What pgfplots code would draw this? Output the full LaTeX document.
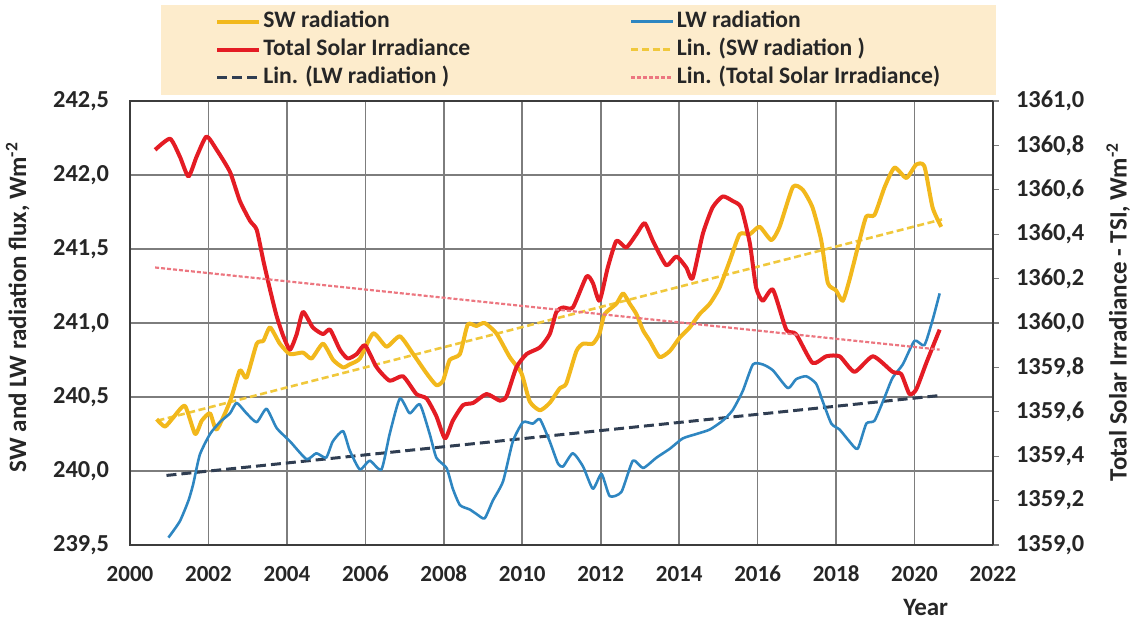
\documentclass[border=0pt]{standalone}
\usepackage{pgfplots}
\pgfplotsset{compat=1.18}
\usepackage{pgfplotstable}
\usepackage{fontspec}
\setmainfont{Carlito}
\definecolor{swc}{RGB}{242,184,28}
\definecolor{lwc}{RGB}{46,134,193}
\definecolor{tsic}{RGB}{228,28,36}
\definecolor{lwtr}{RGB}{48,62,82}
\definecolor{swtr}{RGB}{240,200,60}
\definecolor{tsitr}{RGB}{236,118,128}
\definecolor{legfill}{RGB}{253,236,204}
\definecolor{framec}{RGB}{60,60,60}
\definecolor{gridc}{RGB}{125,125,125}
\newcommand\labfont{\bfseries\fontsize{12.5}{14}\selectfont}

\pgfplotstableread{
x y
2000.68 240.35
2000.89 240.30
2001.10 240.36
2001.40 240.44
2001.66 240.25
2001.83 240.34
2002.04 240.39
2002.21 240.28
2002.55 240.47
2002.80 240.68
2002.97 240.63
2003.23 240.86
2003.40 240.88
2003.57 240.97
2003.82 240.86
2004.08 240.79
2004.41 240.80
2004.63 240.76
2004.92 240.86
2005.18 240.75
2005.43 240.70
2005.60 240.72
2005.86 240.76
2006.20 240.93
2006.54 240.84
2006.88 240.91
2007.22 240.79
2007.56 240.66
2007.81 240.58
2007.98 240.61
2008.15 240.75
2008.41 240.79
2008.61 240.99
2008.83 240.98
2009.04 241.00
2009.34 240.93
2009.68 240.77
2009.98 240.66
2010.19 240.47
2010.45 240.41
2010.70 240.46
2010.96 240.56
2011.12 240.59
2011.38 240.81
2011.55 240.86
2011.80 240.86
2011.97 240.93
2012.10 241.06
2012.40 241.13
2012.57 241.20
2012.74 241.13
2012.91 241.06
2013.08 240.95
2013.25 240.88
2013.50 240.77
2013.76 240.81
2014.01 240.90
2014.27 240.97
2014.52 241.06
2014.78 241.13
2015.03 241.24
2015.29 241.42
2015.54 241.60
2015.80 241.60
2016.05 241.65
2016.35 241.56
2016.56 241.65
2016.90 241.92
2017.15 241.90
2017.40 241.78
2017.62 241.56
2017.79 241.27
2018.00 241.22
2018.17 241.15
2018.34 241.29
2018.60 241.56
2018.77 241.72
2018.98 241.73
2019.24 241.92
2019.49 242.05
2019.79 241.98
2020.04 242.07
2020.25 242.06
2020.46 241.78
2020.68 241.65
}\swdata

\pgfplotstableread{
x y
2000.98 239.55
2001.27 239.66
2001.49 239.80
2001.61 239.91
2001.78 240.11
2002.04 240.25
2002.29 240.33
2002.55 240.39
2002.72 240.46
2002.97 240.39
2003.23 240.33
2003.48 240.42
2003.74 240.29
2004.08 240.20
2004.50 240.08
2004.75 240.12
2005.00 240.09
2005.17 240.20
2005.43 240.27
2005.60 240.14
2005.86 240.01
2006.11 240.07
2006.41 240.01
2006.62 240.25
2006.88 240.49
2007.13 240.39
2007.39 240.45
2007.64 240.25
2007.81 240.09
2008.07 240.02
2008.23 239.88
2008.41 239.77
2008.66 239.74
2008.83 239.71
2009.04 239.68
2009.25 239.80
2009.51 239.93
2009.76 240.20
2010.02 240.33
2010.27 240.32
2010.45 240.35
2010.70 240.20
2010.91 240.05
2011.04 240.03
2011.29 240.12
2011.55 240.03
2011.80 239.88
2012.02 239.98
2012.23 239.83
2012.53 239.86
2012.82 240.07
2013.08 240.02
2013.42 240.09
2013.76 240.15
2014.09 240.22
2014.44 240.25
2014.78 240.28
2015.11 240.34
2015.36 240.41
2015.62 240.54
2015.88 240.72
2016.13 240.72
2016.39 240.68
2016.77 240.56
2016.98 240.62
2017.24 240.64
2017.49 240.59
2017.66 240.47
2017.88 240.32
2018.09 240.28
2018.34 240.20
2018.55 240.15
2018.77 240.32
2018.98 240.34
2019.24 240.50
2019.44 240.63
2019.70 240.72
2020.00 240.88
2020.25 240.85
2020.46 241.02
2020.64 241.20
}\lwdata

\pgfplotstableread{
x y
2000.64 1360.78
2001.02 1360.83
2001.27 1360.75
2001.49 1360.66
2001.70 1360.75
2001.95 1360.84
2002.21 1360.78
2002.55 1360.68
2002.80 1360.55
2003.06 1360.46
2003.23 1360.42
2003.40 1360.28
2003.57 1360.15
2003.74 1360.03
2003.91 1359.94
2004.08 1359.88
2004.25 1359.95
2004.41 1360.05
2004.66 1359.98
2004.92 1359.95
2005.10 1359.97
2005.35 1359.88
2005.55 1359.84
2005.78 1359.86
2005.99 1359.90
2006.29 1359.80
2006.62 1359.74
2006.96 1359.76
2007.30 1359.68
2007.56 1359.66
2007.81 1359.58
2008.03 1359.48
2008.23 1359.56
2008.49 1359.63
2008.75 1359.64
2009.09 1359.68
2009.43 1359.65
2009.60 1359.67
2009.85 1359.80
2010.11 1359.86
2010.45 1359.89
2010.70 1359.95
2010.87 1360.05
2011.04 1360.07
2011.29 1360.07
2011.64 1360.21
2011.80 1360.18
2011.97 1360.10
2012.18 1360.25
2012.40 1360.37
2012.65 1360.34
2012.91 1360.40
2013.12 1360.45
2013.33 1360.37
2013.67 1360.26
2013.93 1360.30
2014.18 1360.25
2014.34 1360.20
2014.60 1360.40
2014.85 1360.52
2015.11 1360.57
2015.36 1360.55
2015.58 1360.52
2015.80 1360.36
2015.96 1360.16
2016.13 1360.10
2016.39 1360.15
2016.73 1359.97
2016.98 1359.95
2017.40 1359.82
2017.75 1359.85
2018.09 1359.85
2018.47 1359.78
2018.94 1359.85
2019.44 1359.78
2019.66 1359.77
2019.87 1359.68
2020.04 1359.70
2020.30 1359.82
2020.64 1359.97
}\tsidata

\pgfplotsset{
  swstyle/.style={color=swc, line width=2pt, line join=round},
  lwstyle/.style={color=lwc, line width=1.3pt, line join=round},
  tsistyle/.style={color=tsic, line width=2pt, line join=round},
  swtrstyle/.style={color=swtr, line width=1.3pt, dash pattern=on 3.5pt off 1.8pt},
  lwtrstyle/.style={color=lwtr, line width=1.5pt, dash pattern=on 5pt off 2.5pt},
  tsitrstyle/.style={color=tsitr, line width=1.1pt, dash pattern=on 2pt off 1pt},
  common/.style={
    at={(65pt,38pt)}, anchor=south west,
    scale only axis, width=431.5pt, height=222pt,
    xmin=2000, xmax=2022,
    /pgf/number format/assume math mode=true,
    ticklabel style={font=\bfseries\fontsize{12.2}{14}\selectfont, text=black!85},
  },
}

\begin{document}
\begin{tikzpicture}
\useasboundingbox (0,0) rectangle (566pt,310.5pt);
\begin{axis}[common,
  ymin=239.5, ymax=242.5,
  xtick={2000,2002,...,2022},
  ytick={239.5,240,240.5,241,241.5,242,242.5},
  grid=major, major grid style={color=gridc, line width=0.8pt},
  axis line style={color=framec, line width=1.3pt},
  major tick length=0pt,
  xticklabel style={/pgf/number format/1000 sep={}, yshift=-7pt, font=\bfseries\fontsize{11.5}{14}\selectfont},
  yticklabel style={/pgf/number format/.cd, fixed, fixed zerofill, precision=1, use comma, /tikz/.cd, xshift=-7pt},
  xlabel={Year},
  every axis x label/.style={at={(axis description cs:0.922,-0.14)}, anchor=center, font=\labfont, text=black!85},
  ylabel={SW and LW radiation flux, Wm\textsuperscript{-2}},
  every axis y label/.style={at={(axis description cs:-0.13,0.536)}, rotate=90, anchor=center, font=\labfont, text=black!85},
]
\addplot[swtrstyle] coordinates {(2000.7,240.34) (2020.7,241.70)};
\addplot[lwtrstyle] coordinates {(2000.93,239.97) (2020.64,240.51)};
\addplot[swstyle, smooth, tension=0.35] table[x=x,y=y] {\swdata};
\addplot[lwstyle, smooth, tension=0.35] table[x=x,y=y] {\lwdata};
\end{axis}

\begin{axis}[common,
  ymin=1359, ymax=1361,
  axis x line=none,
  axis y line*=right,
  axis line style={color=framec, line width=1.3pt},
  ytick={1359,1359.2,1359.4,1359.6,1359.8,1360,1360.2,1360.4,1360.6,1360.8,1361},
  tick align=outside, major tick length=3pt,
  tick style={color=gridc, line width=0.6pt},
  yticklabel style={/pgf/number format/.cd, fixed, fixed zerofill, precision=1, use comma, 1000 sep={}, /tikz/.cd, xshift=5pt},
  ylabel={Total Solar Irradiance - TSI, Wm\textsuperscript{-2}},
  every axis y label/.style={at={(axis description cs:1.145,0.525)}, rotate=90, anchor=center, font=\labfont, text=black!85},
  legend columns=2,
  legend cell align=left,
  legend image code/.code={\draw[#1] (0pt,0pt) -- (21pt,0pt);},
  legend style={
    at={(axis description cs:0.0359,1)}, anchor=south west, yshift=3pt,
    fill=legfill, draw=none,
    inner xsep=27pt, inner ysep=1.5pt,
    font=\bfseries\fontsize{11.8}{14}\selectfont, text=black!85,
    nodes={inner xsep=1pt, inner ysep=1pt, text height=9pt, text depth=3pt},
    /tikz/every even column/.append style={column sep=79pt},
  },
]
\addlegendimage{swstyle}
\addlegendentry{SW radiation}
\addlegendimage{lwstyle}
\addlegendentry{LW radiation}
\addplot[tsistyle, smooth, tension=0.35] table[x=x,y=y] {\tsidata};
\addlegendentry{Total Solar Irradiance}
\addlegendimage{swtrstyle}
\addlegendentry{Lin. (SW radiation )}
\addlegendimage{lwtrstyle}
\addlegendentry{Lin. (LW radiation )}
\addplot[tsitrstyle] coordinates {(2000.64,1360.25) (2020.64,1359.88)};
\addlegendentry{Lin. (Total Solar Irradiance)}
\end{axis}
\end{tikzpicture}
\end{document}
